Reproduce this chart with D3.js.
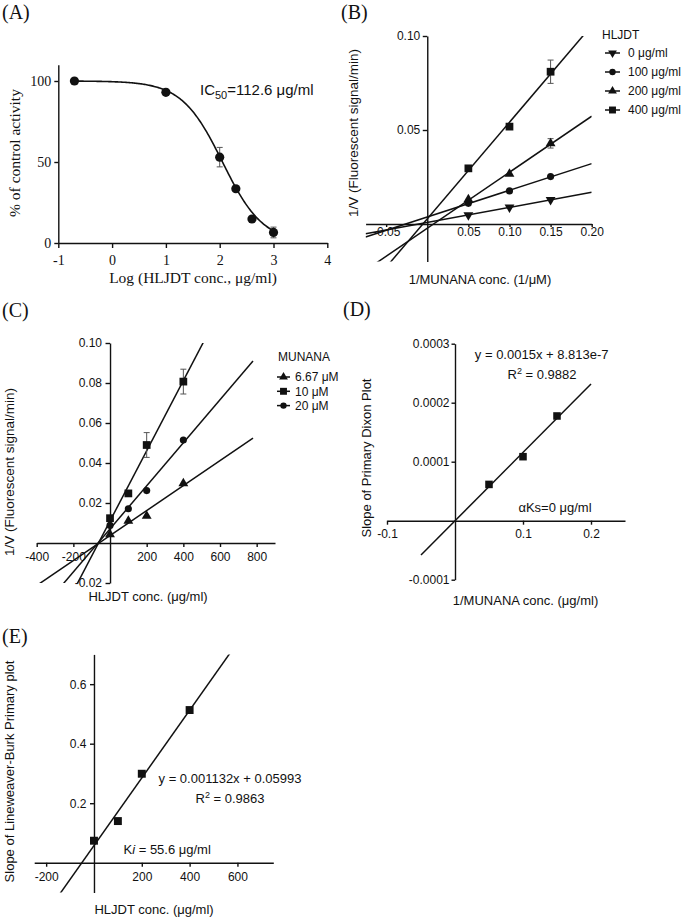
<!DOCTYPE html>
<html><head><meta charset="utf-8">
<script src="https://cdn.jsdelivr.net/npm/d3@7"></script>
<style>body{margin:0;background:#fff;}svg{display:block;}</style>
</head><body>
<svg id="fig" width="685" height="919"></svg>
<script>
// ---------------- DATA ----------------
// Panel A: dose-response
const aLogConc = [-0.7, 1, 2, 2.3, 2.6, 3];
const aActivity = [100, 93, 53, 33.5, 14.8, 6.5];
const aError = [0, 0, 6, 0, 0, 3.3];
const aFitTop = 100, aFitBottom = 0, aFitIC50 = 112.6, aFitHill = -1.15;
const aXTicks = [-1, 0, 1, 2, 3, 4];
const aXTickLabels = ["-1", "0", "1", "2", "3", "4"];
const aYTicks = [0, 50, 100];
const aYTickLabels = ["0", "50", "100"];

// Panel B: Lineweaver-Burk
const bInvSubstrate = [0.05, 0.10, 0.15];
const bSeriesNames = ["0 μg/ml", "100 μg/ml", "200 μg/ml", "400 μg/ml"];
const bSeriesSymbols = ["triangleDown", "circle", "triangle", "square"];
const bHLJDT0 = [0.0048, 0.0089, 0.0128];
const bHLJDT100 = [0.0110, 0.0176, 0.0252];
const bHLJDT200 = [0.0131, 0.0266, 0.0429];
const bHLJDT400 = [0.0296, 0.0518, 0.0810];
const bErr0 = [0, 0, 0];
const bErr100 = [0, 0, 0];
const bErr200 = [0, 0, 0.0025];
const bErr400 = [0, 0.0012, 0.0062];
const bXTicks = [-0.05, 0.05, 0.10, 0.15, 0.20];
const bXTickLabels = ["-0.05", "0.05", "0.10", "0.15", "0.20"];
const bYTicks = [0.05, 0.10];
const bYTickLabels = ["0.05", "0.10"];

// Panel C: Dixon plot
const cConc = [0, 100, 200, 400];
const cSeriesNames = ["6.67 μM", "10 μM", "20 μM"];
const cSeriesSymbols = ["triangle", "square", "circle"];
const cMunana667 = [0.0043, 0.0110, 0.0135, 0.0298];
const cMunana10 = [0.0124, 0.0248, 0.0490, 0.0807];
const cMunana20 = [0.0088, 0.0171, 0.0262, 0.0515];
const cErr667 = [0, 0, 0, 0];
const cErr10 = [0, 0, 0.0062, 0.0062];
const cErr20 = [0, 0, 0, 0];
const cXTicks = [-400, -200, 200, 400, 600, 800];
const cXTickLabels = ["-400", "-200", "200", "400", "600", "800"];
const cYTicks = [-0.02, 0.02, 0.04, 0.06, 0.08, 0.10];
const cYTickLabels = ["-0.02", "0.02", "0.04", "0.06", "0.08", "0.10"];

// Panel D: secondary Dixon slope plot
const dInvSubstrate = [0.05, 0.10, 0.15];
const dSlope = [0.0000615, 0.0001085, 0.0001775];
const dXTicks = [-0.1, 0.1, 0.2];
const dXTickLabels = ["-0.1", "0.1", "0.2"];
const dYTicks = [-0.0001, 0.0001, 0.0002, 0.0003];
const dYTickLabels = ["-0.0001", "0.0001", "0.0002", "0.0003"];

// Panel E: secondary LB slope plot
const eConc = [0, 100, 200, 400];
const eSlope = [0.074, 0.140, 0.299, 0.513];
const eXTicks = [-200, 200, 400, 600];
const eXTickLabels = ["-200", "200", "400", "600"];
const eYTicks = [0.2, 0.4, 0.6];
const eYTickLabels = ["0.2", "0.4", "0.6"];

// ---------------- HELPERS ----------------
const svg = d3.select("#fig");
const defs = svg.append("defs");
const INK = "#111";
const SANS = "'Liberation Sans', Arial, sans-serif";
const SERIF = "'Liberation Serif', 'Times New Roman', serif";

function styleAxis(sel, font, fs) {
  sel.attr("font-family", font).attr("font-size", fs);
  sel.select(".domain").attr("stroke", INK).attr("stroke-width", 1.4);
  sel.selectAll(".tick line").attr("stroke", INK).attr("stroke-width", 1.4);
  sel.selectAll(".tick text").attr("fill", INK);
}
function addXAxis(g, x, yPos, vals, labels, size, pad, font, fs) {
  const ax = d3.axisBottom(x).tickValues(vals).tickFormat((d, i) => labels[i])
    .tickSize(size).tickPadding(pad).tickSizeOuter(0);
  const s = g.append("g").attr("transform", `translate(0,${yPos})`).call(ax);
  styleAxis(s, font, fs);
}
function addYAxis(g, y, xPos, vals, labels, size, pad, font, fs) {
  const ax = d3.axisLeft(y).tickValues(vals).tickFormat((d, i) => labels[i])
    .tickSize(size).tickPadding(pad).tickSizeOuter(0);
  const s = g.append("g").attr("transform", `translate(${xPos},0)`).call(ax);
  styleAxis(s, font, fs);
}
function addClip(id, x, y) {
  const [x0, x1] = x.range(), [y0, y1] = y.range();
  defs.append("clipPath").attr("id", id).append("rect")
    .attr("x", Math.min(x0, x1)).attr("y", Math.min(y0, y1))
    .attr("width", Math.abs(x1 - x0)).attr("height", Math.abs(y1 - y0));
}
function linReg(xs, ys) {
  const mx = d3.mean(xs), my = d3.mean(ys);
  let sxy = 0, sxx = 0;
  xs.forEach((v, i) => { sxy += (v - mx) * (ys[i] - my); sxx += (v - mx) * (v - mx); });
  const m = sxy / sxx;
  return { m: m, b: my - m * mx };
}
function fitLine(g, x, y, xs, ys, xa, xb, clipId) {
  const f = linReg(xs, ys);
  g.append("line")
    .attr("x1", x(xa)).attr("y1", y(f.m * xa + f.b))
    .attr("x2", x(xb)).attr("y2", y(f.m * xb + f.b))
    .attr("stroke", INK).attr("stroke-width", 1.5)
    .attr("clip-path", `url(#${clipId})`);
}
function errBars(g, x, y, xs, ys, es, cap) {
  xs.forEach((v, i) => {
    if (!es[i]) return;
    const cx = x(v), ya = y(ys[i] + es[i]), yb = y(ys[i] - es[i]);
    const eg = g.append("g").attr("stroke", "#555").attr("stroke-width", 1);
    eg.append("line").attr("x1", cx).attr("x2", cx).attr("y1", ya).attr("y2", yb);
    eg.append("line").attr("x1", cx - cap).attr("x2", cx + cap).attr("y1", ya).attr("y2", ya);
    eg.append("line").attr("x1", cx - cap).attr("x2", cx + cap).attr("y1", yb).attr("y2", yb);
  });
}
const symTypes = { circle: d3.symbolCircle, square: d3.symbolSquare, triangle: d3.symbolTriangle, triangleDown: d3.symbolTriangle };
const symSizes = { circle: 40, square: 60, triangle: 42, triangleDown: 42 };
function symbolAt(g, type, cx, cy, scaleK) {
  const sz = symSizes[type] * (scaleK || 1);
  g.append("path").attr("d", d3.symbol(symTypes[type], sz)())
    .attr("transform", `translate(${cx},${cy})` + (type === "triangleDown" ? " rotate(180)" : ""))
    .attr("fill", INK);
}
function markers(g, x, y, xs, ys, type, scaleK) {
  xs.forEach((v, i) => symbolAt(g, type, x(v), y(ys[i]), scaleK));
}
function text(g, str, xx, yy, font, fs, anchor) {
  return g.append("text").attr("x", xx).attr("y", yy).attr("font-family", font)
    .attr("font-size", fs).attr("fill", INK).attr("text-anchor", anchor || "start").text(str);
}
function vtext(g, str, cx, cy, font, fs) {
  return g.append("text").attr("transform", `translate(${cx},${cy}) rotate(-90)`)
    .attr("font-family", font).attr("font-size", fs).attr("fill", INK)
    .attr("text-anchor", "middle").text(str);
}

// ---------------- PANEL A ----------------
{
  const g = svg.append("g");
  const x = d3.scaleLinear([-1, 4], [58.3, 327.3]);
  const y = d3.scaleLinear([0, 110], [243, 64.8]);
  addXAxis(g, x, y(0), aXTicks, aXTickLabels, 5, 7, SERIF, 14);
  addYAxis(g, y, x(-1), aYTicks, aYTickLabels, 4, 3, SERIF, 14);
  const logIC = Math.log10(aFitIC50);
  const curve = d3.range(-0.7, 3.0001, 0.02).map(v =>
    [v, aFitBottom + (aFitTop - aFitBottom) / (1 + Math.pow(10, (logIC - v) * aFitHill))]);
  g.append("path").attr("d", d3.line().x(d => x(d[0])).y(d => y(d[1]))(curve))
    .attr("fill", "none").attr("stroke", INK).attr("stroke-width", 1.6);
  errBars(g, x, y, aLogConc, aActivity, aError, 3);
  aLogConc.forEach((v, i) => g.append("circle").attr("cx", x(v)).attr("cy", y(aActivity[i])).attr("r", 4.6).attr("fill", INK));
  const t = text(g, "IC", 200, 95, SANS, 15);
  t.append("tspan").attr("font-size", 11).attr("dy", 4).text("50");
  t.append("tspan").attr("dy", -4).text("=112.6 μg/ml");
  text(g, "Log (HLJDT conc., μg/ml)", 193, 283, SERIF, 15.5, "middle");
  vtext(g, "% of control activity", 20, 153, SERIF, 15.5);
  text(g, "(A)", 2, 18.5, SERIF, 20);
}

// ---------------- PANEL B ----------------
{
  const g = svg.append("g");
  const x = d3.scaleLinear([-0.075, 0.20], [365.6, 591.7]);
  const y = d3.scaleLinear([-0.02, 0.10], [261.6, 36]);
  addClip("clipB", x, y);
  addXAxis(g, x, y(0), bXTicks, bXTickLabels, 3, 0, SANS, 12);
  addYAxis(g, y, x(0), bYTicks, bYTickLabels, 4.5, 2.5, SANS, 12);
  const series = [bHLJDT0, bHLJDT100, bHLJDT200, bHLJDT400];
  const errs = [bErr0, bErr100, bErr200, bErr400];
  series.forEach((s, k) => fitLine(g, x, y, bInvSubstrate, s, -0.075, 0.20, "clipB"));
  series.forEach((s, k) => errBars(g, x, y, bInvSubstrate, s, errs[k], 3));
  series.forEach((s, k) => markers(g, x, y, bInvSubstrate, s, bSeriesSymbols[k]));
  text(g, "1/MUNANA conc. (1/μM)", 480, 284, SANS, 13, "middle");
  vtext(g, "1/V (Fluorescent signal/min)", 357.5, 133, SANS, 13.5);
  text(g, "(B)", 341, 18.5, SERIF, 20);
  // legend
  text(g, "HLJDT", 602, 39, SANS, 12);
  bSeriesNames.forEach((nm, k) => {
    const cy = 53 + k * 19;
    g.append("line").attr("x1", 605).attr("x2", 620).attr("y1", cy).attr("y2", cy).attr("stroke", INK).attr("stroke-width", 1.5);
    symbolAt(g, bSeriesSymbols[k], 612.5, cy, 0.8);
    text(g, nm, 628, cy + 4.3, SANS, 12);
  });
}

// ---------------- PANEL C ----------------
{
  const g = svg.append("g");
  const x = d3.scaleLinear([-400, 900], [36.7, 275]);
  const y = d3.scaleLinear([-0.02, 0.10], [583, 343]);
  addClip("clipC", x, y);
  addXAxis(g, x, y(0), cXTicks, cXTickLabels, 4, 5, SANS, 12);
  addYAxis(g, y, x(0), cYTicks, cYTickLabels, 4.5, 3.5, SANS, 12);
  const series = [cMunana667, cMunana10, cMunana20];
  const errs = [cErr667, cErr10, cErr20];
  series.forEach(s => fitLine(g, x, y, cConc, s, -400, 780, "clipC"));
  series.forEach((s, k) => errBars(g, x, y, cConc, s, errs[k], 3));
  series.forEach((s, k) => markers(g, x, y, cConc, s, cSeriesSymbols[k]));
  text(g, "HLJDT conc. (μg/ml)", 148, 600.5, SANS, 13, "middle");
  vtext(g, "1/V (Fluorescent signal/min)", 14, 472, SANS, 13.5);
  text(g, "(C)", 2, 317, SERIF, 20);
  text(g, "MUNANA", 278, 361, SANS, 12);
  cSeriesNames.forEach((nm, k) => {
    const cy = 377 + k * 14.3;
    g.append("line").attr("x1", 277).attr("x2", 290).attr("y1", cy).attr("y2", cy).attr("stroke", INK).attr("stroke-width", 1.5);
    symbolAt(g, cSeriesSymbols[k], 283.5, cy, 0.8);
    text(g, nm, 295, cy + 4.3, SANS, 12);
  });
}

// ---------------- PANEL D ----------------
{
  const g = svg.append("g");
  const x = d3.scaleLinear([-0.1, 0.25], [387, 625]);
  const y = d3.scaleLinear([-0.0001, 0.0003], [579.7, 343.7]);
  addClip("clipD", x, y);
  addXAxis(g, x, y(0), dXTicks, dXTickLabels, 4, 5, SANS, 12);
  addYAxis(g, y, x(0), dYTicks, dYTickLabels, 3.5, 2, SANS, 12);
  fitLine(g, x, y, dInvSubstrate, dSlope, -0.05, 0.2, "clipD");
  markers(g, x, y, dInvSubstrate, dSlope, "square", 0.95);
  text(g, "y = 0.0015x + 8.813e-7", 541.7, 359, SANS, 13, "middle");
  const r = text(g, "R", 542, 378.5, SANS, 13, "middle");
  r.append("tspan").attr("font-size", 9).attr("dy", -5).text("2");
  r.append("tspan").attr("dy", 5).text(" = 0.9882");
  text(g, "αKs=0 μg/ml", 555, 511.5, SANS, 13, "middle");
  text(g, "1/MUNANA conc. (μg/ml)", 525.5, 605, SANS, 13, "middle");
  vtext(g, "Slope of Primary Dixon Plot", 370.5, 458, SANS, 13);
  text(g, "(D)", 343, 316, SERIF, 20);
}

// ---------------- PANEL E ----------------
{
  const g = svg.append("g");
  const x = d3.scaleLinear([-250, 750], [34.2, 273.3]);
  const y = d3.scaleLinear([-0.1, 0.7], [892.5, 654.4]);
  addClip("clipE", x, y);
  addXAxis(g, x, y(0), eXTicks, eXTickLabels, 4, 6, SANS, 12);
  addYAxis(g, y, x(0), eYTicks, eYTickLabels, 4, 3.5, SANS, 12);
  fitLine(g, x, y, eConc, eSlope, -250, 750, "clipE");
  markers(g, x, y, eConc, eSlope, "square", 1.05);
  text(g, "y = 0.001132x + 0.05993", 230, 782.5, SANS, 13, "middle");
  const r = text(g, "R", 230, 802.5, SANS, 13, "middle");
  r.append("tspan").attr("font-size", 9).attr("dy", -5).text("2");
  r.append("tspan").attr("dy", 5).text(" = 0.9863");
  const k = text(g, "K", 123.5, 853.5, SANS, 13);
  k.append("tspan").attr("font-style", "italic").text("i");
  k.append("tspan").text(" = 55.6 μg/ml");
  text(g, "HLJDT conc. (μg/ml)", 154, 914, SANS, 13, "middle");
  vtext(g, "Slope of Lineweaver-Burk Primary plot", 13.5, 771.5, SANS, 13);
  text(g, "(E)", 2, 643, SERIF, 20);
}
</script>
</body></html>
